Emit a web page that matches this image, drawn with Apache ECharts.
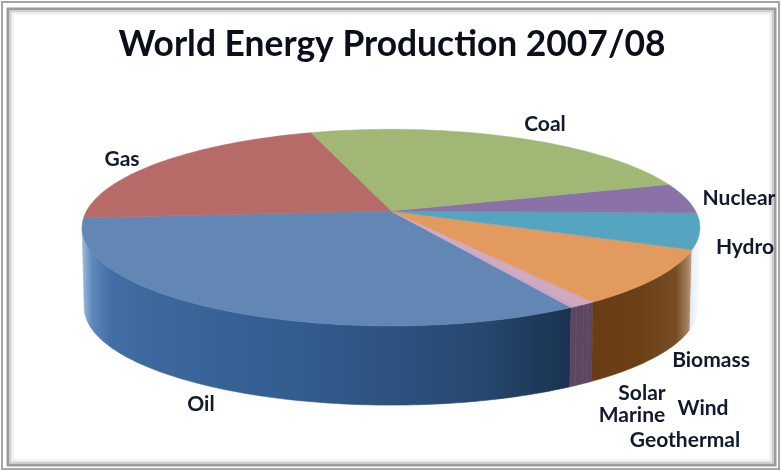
<!DOCTYPE html>
<html><head><meta charset="utf-8">
<style>html,body{margin:0;padding:0;background:#fff}#c{width:781px;height:471px}</style>
<script src="https://cdn.jsdelivr.net/npm/echarts@6/dist/echarts.min.js"></script>
</head><body><div id="c"></div>
<script>
const categories = ['Oil','Geothermal','Wind','Marine','Solar','Biomass','Hydro','Nuclear','Coal','Gas'];
const shares = [32.25,0.3,0.4,0.25,0.3,9.1,5.9,5.0,25.2,21.1];
const titleText = 'World Energy Production 2007/08';

const topColors = {Oil:'#6287b5',Geothermal:'#c8a4c4',Wind:'#cfa8c0',Marine:'#d2a8bc',Solar:'#cda6c0',Biomass:'#e39a5e',Hydro:'#55a5c0',Nuclear:'#8a72a8',Coal:'#a0b775',Gas:'#b66b69'};
const wallStops = {
  Oil:[[82,'#a4bcd8'],[92,'#5d89bc'],[110,'#436fa6'],[150,'#3d689d'],[300,'#335c8f'],[480,'#27486f'],[570,'#1a3250']],
  Geothermal:[[565,'#5c4660'],[600,'#5c4660']],Wind:[[565,'#5c4660'],[600,'#5c4660']],
  Marine:[[565,'#5c4660'],[600,'#5c4660']],Solar:[[565,'#5c4660'],[600,'#5c4660']],
  Biomass:[[590,'#6a3c14'],[640,'#6c4017'],[676,'#764c24'],[688,'#a68260'],[696,'#ded0c0']],
  Hydro:[[690,'#e4ecf0'],[702,'#ffffff']]
};
const labelAt = {Oil:[201,404],Gas:[122,159],Coal:[545,124],Nuclear:[739,198],Hydro:[745,247],Biomass:[711,360],Solar:[642,393],Marine:[632,415],Wind:[703,408],Geothermal:[685,440]};

const view = {cx:391,cy:211,sx:304.5,sy:95.5,k:0.169,depth:80,bottomScale:0.993,startDeg:184};
const total = shares.reduce((a,b)=>a+b,0);
const cum = []; shares.reduce((a,b,i)=>(cum[i]=a,a+b),0);
function proj(deg,lower){
  const r=deg*Math.PI/180,u=Math.cos(r),v=Math.sin(r),w=1+view.k*v;
  const s=lower?view.bottomScale:1;
  return [view.cx+view.sx*s*u/w, view.cy-view.sy*s*v/w+(lower?view.depth:0)];
}
function renderSlice(params,api){
  const i=params.dataIndex,name=categories[i];
  const a0=view.startDeg+cum[i]/total*360,a1=a0+shares[i]/total*360;
  const arc=(a,b,l)=>{const p=[],n=Math.max(2,Math.ceil(Math.abs(b-a)));for(let j=0;j<=n;j++)p.push(proj(a+(b-a)*j/n,l));return p;};
  const wallFrom=Math.max(a0,189.7),wallTo=Math.min(a1,350.3);
  const kids=[];
  if(wallTo>wallFrom&&wallStops[name]){
    const st=wallStops[name],x0=st[0][0],x1=st[st.length-1][0];
    const g=new echarts.graphic.LinearGradient(x0,0,x1,0,st.map(s=>({offset:(s[0]-x0)/(x1-x0),color:s[1]})),true);
    kids.push({type:'polygon',z2:1,shape:{points:arc(wallFrom,wallTo,false).concat(arc(wallTo,wallFrom,true))},
      style:{fill:g,stroke:g,lineWidth:0.6}});
  }
  kids.push({type:'polygon',z2:2,shape:{points:[[view.cx,view.cy]].concat(arc(a0,a1,false))},
    style:{fill:topColors[name],stroke:topColors[name],lineWidth:0.5}});
  kids.push({type:'text',z2:3,style:{text:name,x:labelAt[name][0],y:labelAt[name][1],align:'center',verticalAlign:'middle',
    font:'bold 21px Lato, "Open Sans", sans-serif',fill:'#111a2c'}});
  return {type:'group',children:kids};
}
const chart=echarts.init(document.getElementById('c'),null,{renderer:'canvas'});
chart.setOption({
  animation:false,backgroundColor:'#fff',
  title:{text:titleText,left:387,top:22,textAlign:'center',textStyle:{fontFamily:'Lato, "Open Sans", sans-serif',fontWeight:'bold',fontSize:35.4,color:'#0a0f1a'}},
  graphic:[
    {type:'rect',silent:true,z:0,shape:{x:2,y:2,width:777,height:467},style:{fill:'#fff',stroke:'#a6a6a6',lineWidth:2}},
    {type:'rect',silent:true,z:0,shape:{x:8,y:9,width:767,height:456},style:{fill:'#fff',stroke:'#9c9c9c',lineWidth:3}},
    {type:'rect',silent:true,z:0,shape:{x:10.5,y:11.5,width:762,height:451},style:{fill:'#fff',stroke:'#cfcfcf',lineWidth:2}},
    {type:'rect',silent:true,z:0,shape:{x:12.5,y:13.5,width:758,height:447},style:{fill:'#fff',stroke:'#efefef',lineWidth:2}}
  ],
  series:[{type:'custom',coordinateSystem:'none',renderItem:renderSlice,clip:false,data:categories.map((c,i)=>({name:c,value:shares[i]}))}]
});
</script></body></html>
